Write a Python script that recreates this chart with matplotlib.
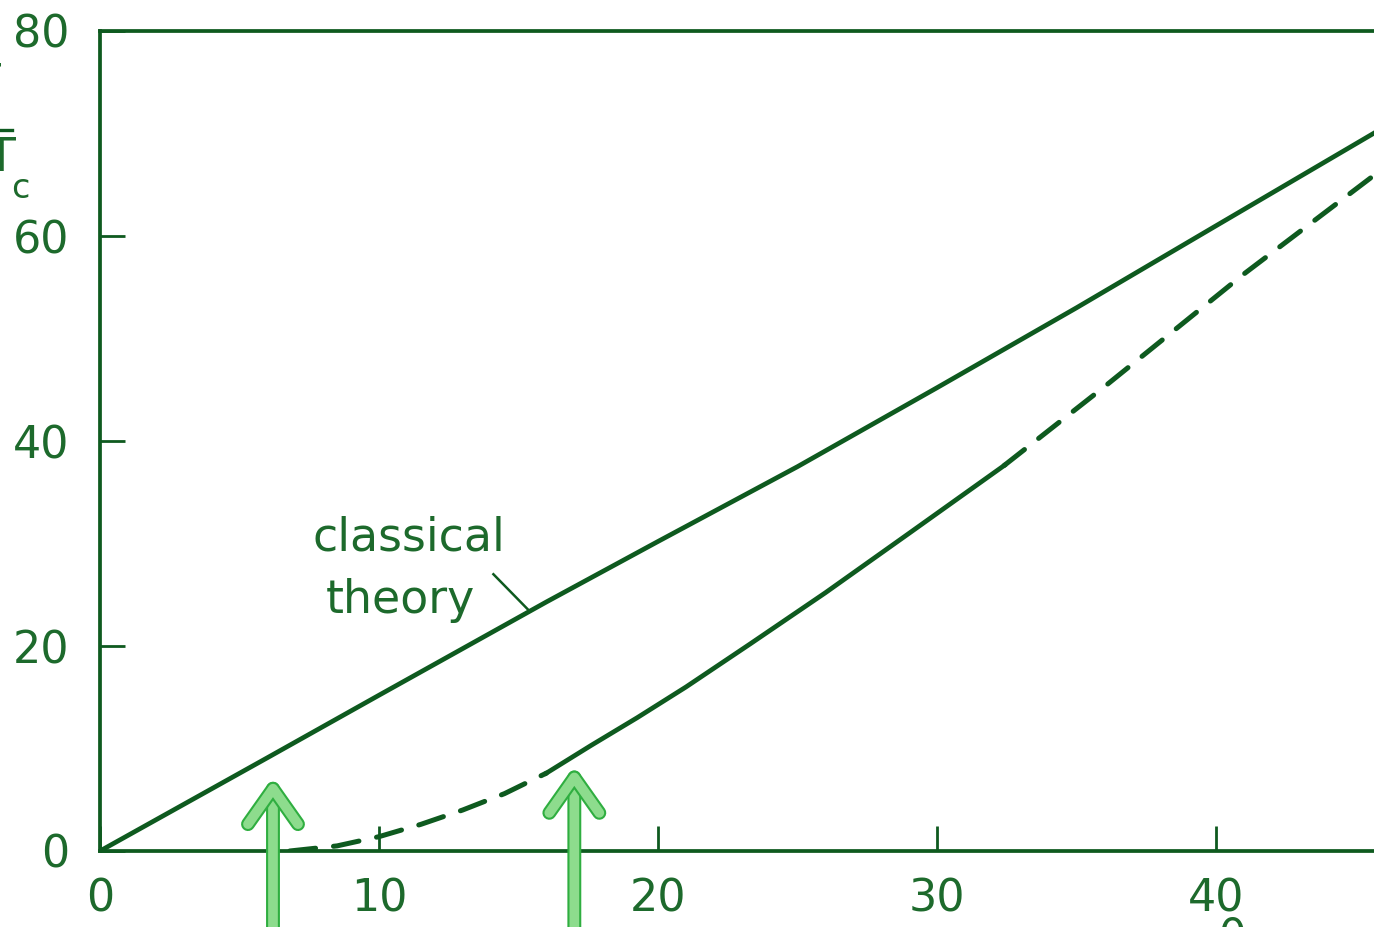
import matplotlib
matplotlib.use("Agg")
import matplotlib.pyplot as plt
import matplotlib.patheffects as pe
from matplotlib.lines import Line2D
import numpy as np

INK = "#0e5a1f"
TEXT = "#1d6a2c"
MARKER = "#8ddc8d"
MARKER_EDGE = "#2fae40"

# classical theory (upper solid curve)
classical_x = [0, 6, 10, 16, 20, 25, 30, 35, 40, 45.7]
classical_y = [0, 9.1, 15.2, 24.3, 30.2, 37.5, 45.2, 53.0, 61.0, 70.1]

# lower curve: dashed, solid in the middle, dashed again
lower_x = [6.8, 8.5, 10, 11.5, 13, 14.5, 16, 17.6, 19.25, 21, 23.3, 26, 29, 32.4, 36, 41, 45.7]
lower_y = [0, 0.5, 1.4, 2.6, 4.0, 5.6, 7.6, 10.3, 13.0, 16.0, 20.2, 25.2, 31.0, 37.6, 45.3, 56.3, 66.0]
solid_from, solid_to = 16.0, 32.4

x_ticks = [0, 10, 20, 30, 40]
y_ticks = [0, 20, 40, 60, 80]

# hand-drawn arrows marking two points on the curves
arrow_x = [6.2, 17.0]
arrow_tip = [6.9, 8.0]

W, H = 1374, 927
fig = plt.figure(figsize=(W / 100, H / 100), dpi=100)
fig.patch.set_facecolor("white")

ax = fig.add_axes([100 / W, 1 - 851 / H, 1 - 100 / W, (851 - 31) / H])
ax.set_xlim(0, 45.66)
ax.set_ylim(0, 80)

for side in ["left", "bottom", "top"]:
    ax.spines[side].set_color(INK)
    ax.spines[side].set_linewidth(2.7)
ax.spines["right"].set_visible(False)

ax.set_xticks(x_ticks)
ax.set_yticks(y_ticks)
ax.tick_params(axis="both", direction="in", length=18, width=2.0, color=INK,
               labelcolor=TEXT, labelsize=32)
ax.tick_params(axis="x", pad=19)
ax.tick_params(axis="y", pad=22)

# classical theory line
ax.plot(classical_x, classical_y, color=INK, lw=3.4, solid_capstyle="round")

# lower curve split into its dashed / solid parts
lx = np.array(lower_x)
ly = np.array(lower_y)
i0 = int(np.where(lx == solid_from)[0][0])
i1 = int(np.where(lx == solid_to)[0][0])
dash = dict(color=INK, lw=3.6, dashes=(5.2, 3.6), dash_capstyle="round")
ax.plot(lx[:i0 + 1], ly[:i0 + 1], **dash)
ax.plot(lx[i0:i1 + 1], ly[i0:i1 + 1], color=INK, lw=3.4)
ax.plot(lx[i1:], ly[i1:], **dash)

# label with leader line
ax.text(7.6, 29.3, "classical", color=TEXT, fontsize=33, va="baseline", ha="left")
ax.text(8.1, 23.2, "theory", color=TEXT, fontsize=33, va="baseline", ha="left")
lead_x = 15.4
ax.plot([14.1, lead_x], [27.0, np.interp(lead_x, classical_x, classical_y)],
        color=INK, lw=1.8)

# highlighter arrows
for xa, ya in zip(arrow_x, arrow_tip):
    ax.annotate("", xy=(xa, ya), xytext=(xa, -9), annotation_clip=False,
                arrowprops=dict(arrowstyle="->,head_length=0.85,head_width=0.6",
                                mutation_scale=30, lw=7, color=MARKER,
                                shrinkA=0, shrinkB=0,
                                path_effects=[pe.Stroke(linewidth=10, foreground=MARKER_EDGE),
                                              pe.Normal()]))

# axis label fragments at the left edge
fig.text(-14 / W, 1 - 62 / H, "T", color=TEXT, fontsize=34, ha="center", va="top")
fig.add_artist(Line2D([0, 12 / W], [1 - 130 / H] * 2, transform=fig.transFigure,
                      color=INK, lw=2.4))
fig.text(1 / W, 1 - 136 / H, "T", color=TEXT, fontsize=34, ha="center", va="top")
fig.text(11 / W, 1 - 198 / H, "c", color=TEXT, fontsize=24, ha="left", va="baseline")
fig.text(1232 / W, 1 - 951 / H, "θ", color=TEXT, fontsize=32, ha="center", va="baseline")

fig.savefig("out.png", dpi=100, facecolor="white")
